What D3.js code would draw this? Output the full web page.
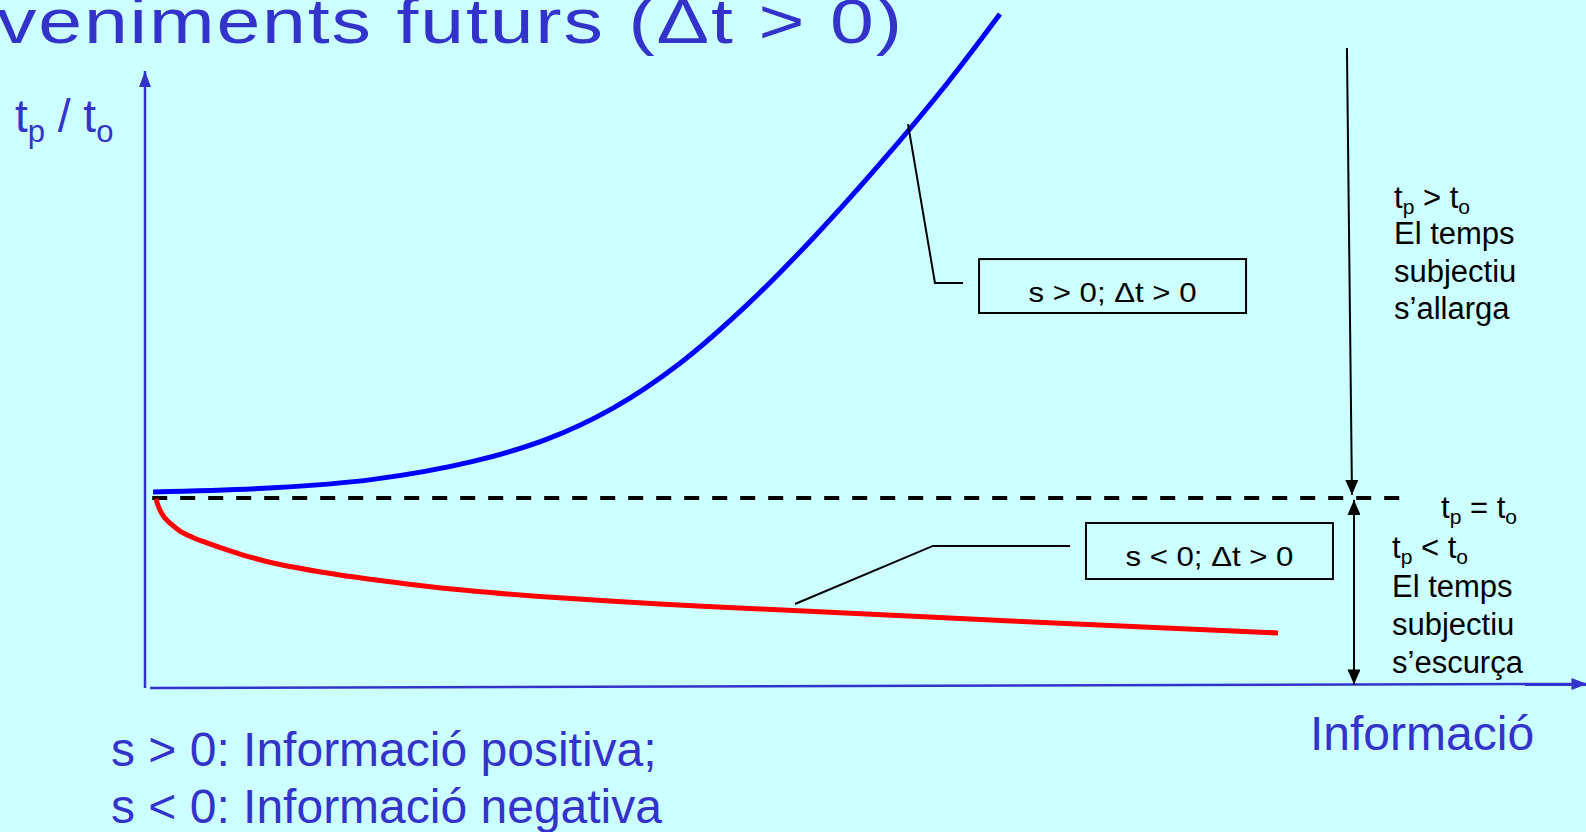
<!DOCTYPE html>
<html><head><meta charset="utf-8">
<script src="https://cdn.jsdelivr.net/npm/d3@7"></script>
<style>
html,body{margin:0;padding:0;background:#CCFFFF;overflow:hidden;}
svg{display:block;}
text{font-family:"Liberation Sans",Arial,"DejaVu Sans",sans-serif;}
</style></head><body>
<svg id="chart" width="1586" height="832"></svg>
<script>
// ---- data (x: information, y: tp/to ratio) ----
const titleText = "veniments futurs (Δt > 0)";
const positiveInfo  = [0.56, 8.88, 15.82, 22.76, 27.90, 32.48, 37.13, 41.78, 46.36, 51.01, 55.66, 59.33];
const positiveRatio = [1.032, 1.054, 1.099, 1.195, 1.313, 1.478, 1.717, 2.027, 2.382, 2.778, 3.205, 3.574];
const negativeInfo  = [0.76, 0.97, 1.32, 1.80, 2.43, 3.33, 4.30, 6.59, 8.88, 13.53, 18.18, 22.76, 27.41, 35.74, 42.68, 60.10, 78.63];
const negativeRatio = [0.995, 0.947, 0.899, 0.862, 0.824, 0.790, 0.761, 0.702, 0.654, 0.590, 0.543, 0.505, 0.476, 0.436, 0.410, 0.346, 0.282];
const equalInfo = [0.5, 87.2];      // extent of the tp = to reference line
const equalRatio = 1;
const curveLabels = ["s > 0; Δt > 0", "s < 0; Δt > 0"];
const upperNotes = ["El temps", "subjectiu", "s’allarga"];
const lowerNotes = ["El temps", "subjectiu", "s’escurça"];
const xAxisLabel = "Informació";
const legendLines = ["s > 0: Informació positiva;", "s < 0: Informació negativa"];

// ---- layout ----
const W = 1586, H = 832;
const AXIS = "#3333CC";
const svg = d3.select("#chart");
svg.append("rect").attr("width", W).attr("height", H).attr("fill", "#CCFFFF");

const x = d3.scaleLinear().domain([0, 100]).range([145, 1586]);
const y = d3.scaleLinear().domain([0, 1]).range([686, 498]);

const defs = svg.append("defs");
function marker(id, color, len, half) {
  defs.append("marker").attr("id", id)
    .attr("markerUnits", "userSpaceOnUse")
    .attr("viewBox", `${-len} ${-half} ${len} ${half * 2}`)
    .attr("refX", 0).attr("refY", 0)
    .attr("markerWidth", len).attr("markerHeight", half * 2)
    .attr("orient", "auto-start-reverse")
    .append("path").attr("d", `M0,0 L${-len},${-half} L${-len},${half} Z`).attr("fill", color);
}
marker("axisArrow", AXIS, 16, 6);
marker("blackArrow", "#000", 15, 6.5);

const line = d3.line().x(d => x(d[0])).y(d => y(d[1]));

// axes
svg.append("path").attr("d", line([[0, -0.01], [0, 3.271]]))
  .attr("stroke", AXIS).attr("stroke-width", 2.5).attr("fill", "none")
  .attr("marker-end", "url(#axisArrow)");
svg.append("path").attr("d", line([[0.35, -0.011], [100.1, 0.011]]))
  .attr("stroke", AXIS).attr("stroke-width", 2.5).attr("fill", "none")
  .attr("marker-end", "url(#axisArrow)");

// tp = to reference
svg.append("path").attr("d", line(equalInfo.map(v => [v, equalRatio])))
  .attr("stroke", "#000").attr("stroke-width", 4).attr("stroke-dasharray", "15,13").attr("fill", "none");

// curves
const curve = d3.line().x(d => x(d[0])).y(d => y(d[1])).curve(d3.curveCatmullRom.alpha(0.5));
svg.append("path").attr("d", curve(positiveInfo.map((v, i) => [v, positiveRatio[i]])))
  .attr("stroke", "#0000FF").attr("stroke-width", 5).attr("fill", "none");
svg.append("path").attr("d", curve(negativeInfo.map((v, i) => [v, negativeRatio[i]])))
  .attr("stroke", "#FF0000").attr("stroke-width", 5).attr("fill", "none");

// callouts
const callouts = [
  { leader: [[52.95, 2.989], [54.82, 2.144], [56.77, 2.144]], box: [57.88, 76.41, 2.271, 1.984], ty: 302 },
  { leader: [[45.11, 0.436], [54.68, 0.745], [64.19, 0.745]], box: [65.30, 82.44, 0.867, 0.569], ty: 566 }
];
callouts.forEach((c, i) => {
  svg.append("path").attr("d", line(c.leader)).attr("stroke", "#000").attr("stroke-width", 2).attr("fill", "none");
  const [x0, x1, y0, y1] = c.box;
  svg.append("rect").attr("x", x(x0)).attr("y", y(y0)).attr("width", x(x1) - x(x0)).attr("height", y(y1) - y(y0))
    .attr("fill", "none").attr("stroke", "#000").attr("stroke-width", 2);
  svg.append("text").attr("x", (x(x0) + x(x1)) / 2).attr("y", c.ty).attr("text-anchor", "middle")
    .attr("font-size", 28).attr("fill", "#000")
    .attr("textLength", 168).attr("lengthAdjust", "spacingAndGlyphs").text(curveLabels[i]);
});

// right arrows
svg.append("path").attr("d", line([[83.41, 3.394], [83.76, 1.016]]))
  .attr("stroke", "#000").attr("stroke-width", 2).attr("fill", "none").attr("marker-end", "url(#blackArrow)");
svg.append("path").attr("d", line([[83.9, 0.99], [83.9, 0.008]]))
  .attr("stroke", "#000").attr("stroke-width", 2).attr("fill", "none")
  .attr("marker-start", "url(#blackArrow)").attr("marker-end", "url(#blackArrow)");

// subscript helper
function ratioText(t, sub, shift, rel) {
  t.append("tspan").text("t");
  t.append("tspan").attr("font-size", sub).attr("dy", shift).text("p");
  t.append("tspan").attr("dy", -shift).text(rel + "t");
  t.append("tspan").attr("font-size", sub).attr("dy", shift).text("o");
}

const notes = svg.append("g").attr("font-size", 31).attr("fill", "#000");
ratioText(notes.append("text").attr("x", 1394).attr("y", 208), 21, 6, " > ");
upperNotes.forEach((s, i) => notes.append("text").attr("x", 1394).attr("y", 244 + i * 37.5).text(s));
ratioText(notes.append("text").attr("x", 1441).attr("y", 518), 21, 6, " = ");
ratioText(notes.append("text").attr("x", 1392).attr("y", 558), 21, 6, " < ");
lowerNotes.forEach((s, i) => notes.append("text").attr("x", 1392).attr("y", 597 + i * 38).text(s));

// y label
const yl = svg.append("text").attr("x", 15).attr("y", 132).attr("font-size", 46).attr("fill", AXIS);
ratioText(yl, 31, 10, " / ");

// x label
svg.append("text").attr("x", 1310).attr("y", 750).attr("font-size", 48).attr("fill", AXIS).text(xAxisLabel);

// legend lines
legendLines.forEach((s, i) => svg.append("text").attr("x", 111).attr("y", 766 + i * 57)
  .attr("font-size", 48).attr("fill", AXIS).text(s));

// title (horizontally widened, as in the slide)
const sx = 1.25;
svg.append("text").attr("transform", `scale(${sx},1)`)
  .attr("x", -3 / sx).attr("y", 43).attr("font-size", 63).attr("fill", AXIS)
  .attr("textLength", 905 / sx).attr("lengthAdjust", "spacing").text(titleText);
</script>
</body></html>
